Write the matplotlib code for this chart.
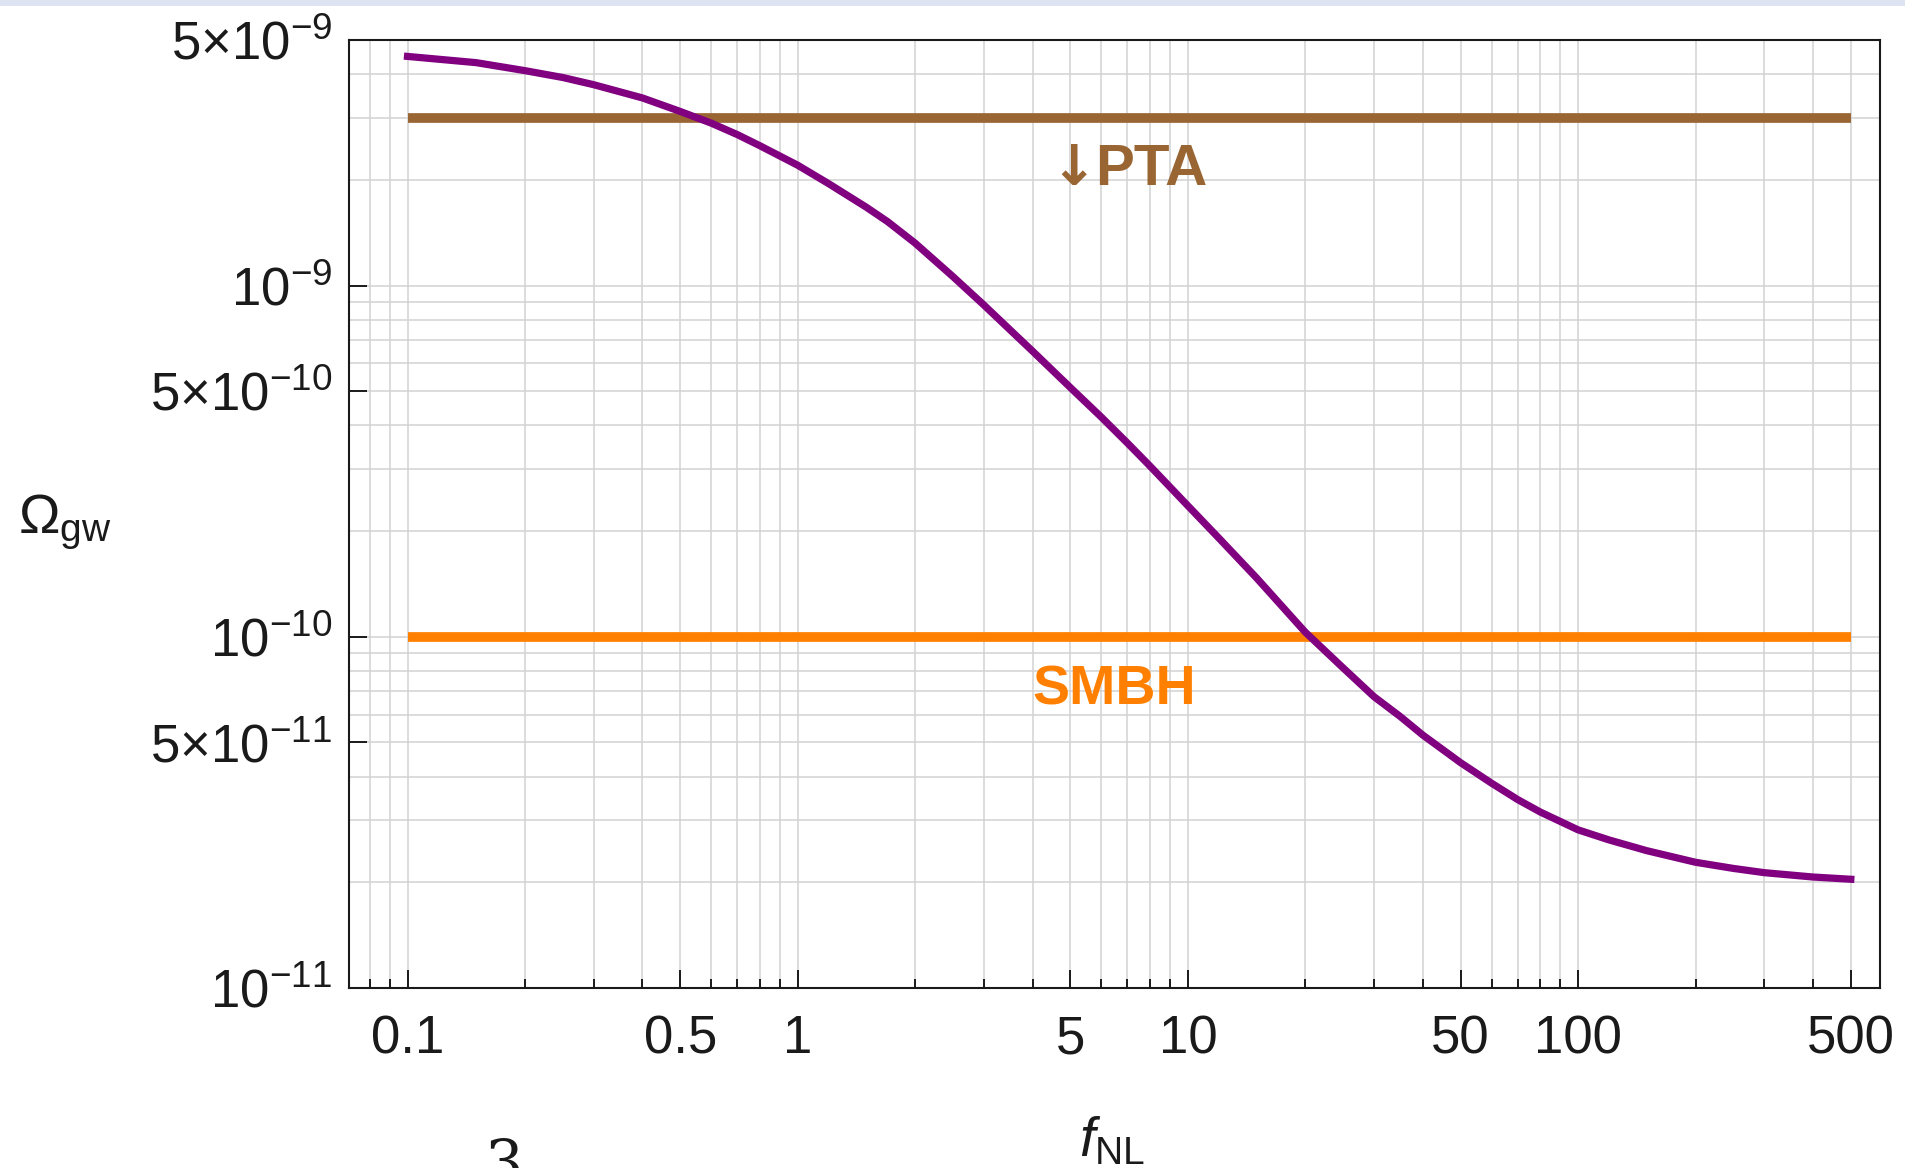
import matplotlib.pyplot as plt
from matplotlib.patches import Rectangle
from matplotlib.ticker import NullFormatter

plt.rcParams['font.family'] = ['Liberation Sans', 'DejaVu Sans']
plt.rcParams['mathtext.fontset'] = 'custom'
plt.rcParams['mathtext.rm'] = 'Liberation Sans'
plt.rcParams['mathtext.it'] = 'Liberation Sans:italic'
plt.rcParams['mathtext.bf'] = 'Liberation Sans:bold'

# values
fnl = [0.1, 0.15, 0.2, 0.25, 0.3, 0.4, 0.5, 0.6, 0.7, 0.8, 1, 1.2, 1.5, 1.7, 2, 2.5,
       3, 3.5, 4, 5, 6, 7, 8, 10, 12, 15, 20, 25, 30, 35, 40, 50, 60, 70, 80, 100,
       120, 150, 200, 250, 300, 400, 500]
omega_gw = [4.49e-9, 4.31e-9, 4.09e-9, 3.91e-9, 3.73e-9, 3.42e-9, 3.13e-9, 2.90e-9,
            2.69e-9, 2.50e-9, 2.20e-9, 1.95e-9, 1.67e-9, 1.52e-9, 1.32e-9, 1.06e-9,
            8.8e-10, 7.48e-10, 6.5e-10, 5.12e-10, 4.22e-10, 3.56e-10, 3.06e-10,
            2.36e-10, 1.91e-10, 1.47e-10, 1.03e-10, 8.15e-11, 6.75e-11, 5.93e-11,
            5.25e-11, 4.38e-11, 3.83e-11, 3.44e-11, 3.17e-11, 2.82e-11, 2.64e-11,
            2.46e-11, 2.28e-11, 2.19e-11, 2.13e-11, 2.07e-11, 2.04e-11]
pta_bound = 3.0e-9
smbh_level = 1.0e-10

xticks = [0.1, 0.5, 1, 5, 10, 50, 100, 500]
xtick_labels = ['0.1', '0.5', '1', '5', '10', '50', '100', '500']
yticks = [1e-11, 5e-11, 1e-10, 5e-10, 1e-9, 5e-9]
ytick_labels = [r'$10^{-11}$', r'5×10$^{-11}$', r'$10^{-10}$',
                r'5×10$^{-10}$', r'$10^{-9}$', r'5×10$^{-9}$']

W, H = 1905, 1168
fig = plt.figure(figsize=(W / 100, H / 100), dpi=100)
ax = fig.add_axes([349 / W, 1 - 988 / H, (1880 - 349) / W, (988 - 40) / H])

ax.plot(fnl, omega_gw, color='#800080', lw=5.2, solid_joinstyle='round', zorder=4)
ax.plot([fnl[0], fnl[-1]], [pta_bound, pta_bound], color='#996633', lw=7,
        solid_capstyle='butt', zorder=3)
ax.plot([fnl[0], fnl[-1]], [smbh_level, smbh_level], color='#ff8000', lw=7,
        solid_capstyle='butt', zorder=3)

ax.set_xscale('log')
ax.set_yscale('log')
ax.set_xlim(0.0708, 594)
ax.set_ylim(1e-11, 5e-9)

# grid / minor tick positions: every 1..9 x decade that is not a labelled tick
xminor = [m * 10.0 ** e for e in range(-2, 3) for m in range(1, 10)]
xminor = [v for v in xminor if 0.0708 < v < 594 and
          all(abs(v - t) / t > 1e-6 for t in xticks)]
yminor = [m * 10.0 ** e for e in range(-11, -8) for m in (2, 3, 4, 6, 7, 8, 9)
          if m * 10.0 ** e < 5e-9]

ax.set_xticks(xticks, xtick_labels)
ax.set_xticks(xminor, minor=True)
ax.set_yticks(yticks, ytick_labels)
ax.set_yticks(yminor, minor=True)
ax.xaxis.set_minor_formatter(NullFormatter())
ax.yaxis.set_minor_formatter(NullFormatter())

ax.grid(True, which='both', color='#d2d2d2', lw=1.1)
ax.set_axisbelow(True)

ax.tick_params(which='both', direction='in', top=False, right=False,
               color='#1a1a1a', width=1.4, labelsize=38, labelcolor='#1a1a1a')
ax.tick_params(which='major', length=13)
ax.tick_params(axis='x', which='minor', length=6.5)
ax.tick_params(axis='y', which='minor', length=0)
ax.tick_params(axis='x', pad=19)
ax.tick_params(axis='y', pad=12)
for s in ax.spines.values():
    s.set_linewidth(1.5)
    s.set_color('#1a1a1a')

ax.text(5.08, 1.93e-9, '↓', color='#996633', fontsize=40, fontweight='bold',
        family='DejaVu Sans', ha='center', va='baseline')
ax.text(8.04, 1.93e-9, 'PTA', color='#996633', fontsize=42, fontweight='bold',
        ha='center', va='baseline')
ax.text(6.46, 6.4e-11, 'SMBH', color='#ff8000', fontsize=40, fontweight='bold',
        ha='center', va='baseline')

fig.text(18 / W, 1 - 522 / H, 'Ω$_{\\mathrm{gw}}$', fontsize=40, ha='left', va='center',
         color='#1a1a1a')
fig.text(1112 / W, 1 - 1142 / H, r'$f_{\mathrm{NL}}$', fontsize=40, ha='center',
         va='center', color='#1a1a1a')
fig.text(504 / W, 1 - 1136 / H, '3', family='DejaVu Serif', fontsize=44, ha='center',
         va='top', color='#1a1a1a')

fig.add_artist(Rectangle((0, 1 - 6 / H), 1, 6 / H, transform=fig.transFigure,
                         color='#dde3f0', lw=0))

fig.savefig('out.png', dpi=100)
